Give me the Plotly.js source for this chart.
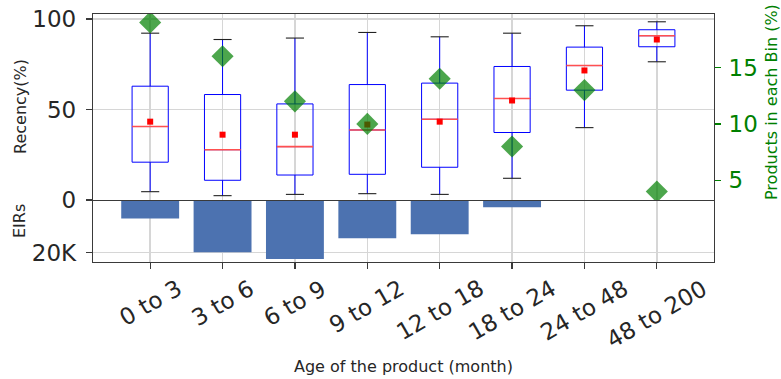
<!DOCTYPE html>
<html>
<head>
<meta charset="utf-8">
<script src="https://cdn.plot.ly/plotly-3.0.1.min.js"></script>
<style>
  html, body { margin: 0; padding: 0; background: #ffffff; }
  #chart { width: 781px; height: 379px; }
</style>
</head>
<body>
<div id="chart"></div>
<script>
// Age bins of the product (months)
const categories = ['0 to 3', '3 to 6', '6 to 9', '9 to 12', '12 to 18', '18 to 24', '24 to 48', '48 to 200'];

// Recency (%) distribution per bin
const whiskerLow  = [4.6, 2.4, 3.1, 3.5, 3.1, 12.0, 40.0, 76.4];
const q1          = [20.9, 10.9, 13.8, 14.2, 18.1, 37.3, 60.7, 84.7];
const medians     = [40.6, 27.8, 29.5, 38.7, 44.6, 56.1, 74.3, 90.8];
const q3          = [62.9, 58.3, 53.1, 63.8, 64.6, 73.8, 84.5, 94.1];
const whiskerHigh = [92.2, 88.7, 89.5, 92.6, 90.2, 92.2, 96.3, 98.5];
const means       = [43.3, 36.1, 36.1, 41.7, 43.3, 55.0, 71.6, 88.7];

// Share of products falling in each bin (%)
const binShare = [19, 16, 12, 10, 14, 8, 13, 4];

// Number of EIRs per bin
const eirs = [7000, 19800, 22400, 14500, 13000, 2750, 400, 300];

const FONT = 'DejaVu Sans, Arial, sans-serif';
const TEXT = '#262626';
const GRID = '#d6d6d6';
const FRAME = '#3a3a3a';
const GREEN = 'green';
const TICK_SIZE = 23;

const idx = categories.map((_, i) => i);

// horizontal segment helper for medians and whisker caps
function segments(values, half) {
  const xs = [], ys = [];
  values.forEach((v, i) => { xs.push(i - half, i + half, null); ys.push(v, v, null); });
  return { x: xs, y: ys };
}

const medSeg = segments(medians, 0.25);
const capLo = segments(whiskerLow, 0.125);
const capHi = segments(whiskerHigh, 0.125);

const traces = [
  {
    type: 'box', x: idx, xaxis: 'x2', yaxis: 'y',
    q1: q1, median: medians, q3: q3, lowerfence: whiskerLow, upperfence: whiskerHigh,
    width: 0.5, whiskerwidth: 0, boxpoints: false,
    line: { color: '#0000ff', width: 1 }, fillcolor: 'rgba(0,0,0,0)',
    hoverinfo: 'skip', showlegend: false
  },
  {
    type: 'scatter', mode: 'lines', x: medSeg.x, y: medSeg.y, xaxis: 'x2', yaxis: 'y',
    line: { color: '#ff5050', width: 1.6 }, hoverinfo: 'skip', showlegend: false
  },
  {
    type: 'scatter', mode: 'lines', x: capLo.x.concat(capHi.x), y: capLo.y.concat(capHi.y),
    xaxis: 'x2', yaxis: 'y',
    line: { color: '#222222', width: 1.1 }, hoverinfo: 'skip', showlegend: false
  },
  {
    type: 'scatter', mode: 'markers', x: idx, y: means, xaxis: 'x2', yaxis: 'y',
    marker: { symbol: 'square', size: 6, color: '#ff0000', line: { width: 0 } },
    hoverinfo: 'skip', showlegend: false
  },
  {
    type: 'scatter', mode: 'markers', x: idx, y: binShare, xaxis: 'x2', yaxis: 'y2',
    marker: { symbol: 'diamond', size: 17, color: 'rgba(0,128,0,0.7)', line: { width: 0 } },
    hoverinfo: 'skip', showlegend: false
  },
  {
    type: 'bar', x: idx, y: eirs, xaxis: 'x', yaxis: 'y3', width: 0.8,
    marker: { color: '#4c72b0', line: { width: 0 } }, hoverinfo: 'skip', showlegend: false
  }
];

const xRange = [-0.79, 7.79];
const PH = 248; // plot-area height in px, used to place paper-referenced labels

const annotations = categories.map((c, i) => ({
  text: c, x: i, xref: 'x', y: -10 / PH, yref: 'paper',
  xanchor: 'center', yanchor: 'top', textangle: -30, showarrow: false,
  font: { family: FONT, size: TICK_SIZE, color: TEXT }
}));

annotations.push(
  { text: 'Age of the product (month)', x: 0.5, xref: 'paper', y: -104 / PH, yref: 'paper',
    xanchor: 'center', yanchor: 'middle', showarrow: false,
    font: { family: FONT, size: 16, color: TEXT } },
  { text: 'Recency(%)', x: -73 / 621, xref: 'paper', y: (262 - 107) / PH, yref: 'paper',
    xanchor: 'center', yanchor: 'middle', textangle: -90, showarrow: false,
    font: { family: FONT, size: 16, color: TEXT } },
  { text: 'EIRs', x: -73.5 / 621, xref: 'paper', y: (262 - 221.5) / PH, yref: 'paper',
    xanchor: 'center', yanchor: 'middle', textangle: -90, showarrow: false,
    font: { family: FONT, size: 16, color: TEXT } },
  { text: 'Products in each Bin (%)', x: (771.5 - 93) / 621, xref: 'paper', y: (262 - 102.5) / PH, yref: 'paper',
    xanchor: 'center', yanchor: 'middle', textangle: -90, showarrow: false,
    font: { family: FONT, size: 16, color: GREEN } }
);

const layout = {
  width: 781, height: 379,
  margin: { l: 93, r: 67, t: 14, b: 117 },
  paper_bgcolor: '#ffffff', plot_bgcolor: '#ffffff',
  font: { family: FONT, color: TEXT },
  showlegend: false,
  xaxis: {
    domain: [0, 1], anchor: 'y3', range: xRange,
    tickvals: idx, showticklabels: false,
    ticks: 'outside', ticklen: 6, tickwidth: 1.2, tickcolor: FRAME,
    showgrid: true, gridcolor: GRID, gridwidth: 1.5, zeroline: false,
    showline: true, mirror: false, linecolor: FRAME, linewidth: 1.2
  },
  xaxis2: {
    matches: 'x', anchor: 'y', range: xRange,
    tickvals: idx, showticklabels: false, ticks: '',
    showgrid: true, gridcolor: GRID, gridwidth: 1.5, zeroline: false,
    showline: true, mirror: true, linecolor: FRAME, linewidth: 1.2
  },
  yaxis: {
    domain: [62 / PH, 1], anchor: 'x2', range: [0, 102.8],
    tickvals: [0, 50, 100], ticktext: ['0', '50', '100'],
    ticks: 'outside', ticklen: 6, tickwidth: 1.2, tickcolor: FRAME,
    ticklabelstandoff: 5,
    tickfont: { family: FONT, size: TICK_SIZE, color: TEXT },
    showgrid: true, gridcolor: GRID, gridwidth: 1.5, zeroline: false,
    showline: true, mirror: true, linecolor: FRAME, linewidth: 1.2
  },
  yaxis2: {
    overlaying: 'y', side: 'right', anchor: 'x2', range: [3.25, 19.75],
    tickvals: [5, 10, 15],
    ticks: 'outside', ticklen: 6, tickwidth: 1.2, tickcolor: GREEN,
    ticklabelstandoff: 3,
    tickfont: { family: FONT, size: TICK_SIZE, color: GREEN },
    showgrid: false, zeroline: false, showline: false
  },
  yaxis3: {
    domain: [0, 62 / PH], anchor: 'x', range: [23520, 0],
    tickvals: [0, 20000], ticktext: ['', '20K'],
    ticks: 'outside', ticklen: 6, tickwidth: 1.2, tickcolor: FRAME,
    ticklabelstandoff: 5,
    tickfont: { family: FONT, size: TICK_SIZE, color: TEXT },
    showgrid: true, gridcolor: GRID, gridwidth: 1.5, zeroline: false,
    showline: true, mirror: true, linecolor: FRAME, linewidth: 1.2
  },
  annotations: annotations
};

Plotly.newPlot('chart', traces, layout, { displayModeBar: false, staticPlot: true });
</script>
</body>
</html>
